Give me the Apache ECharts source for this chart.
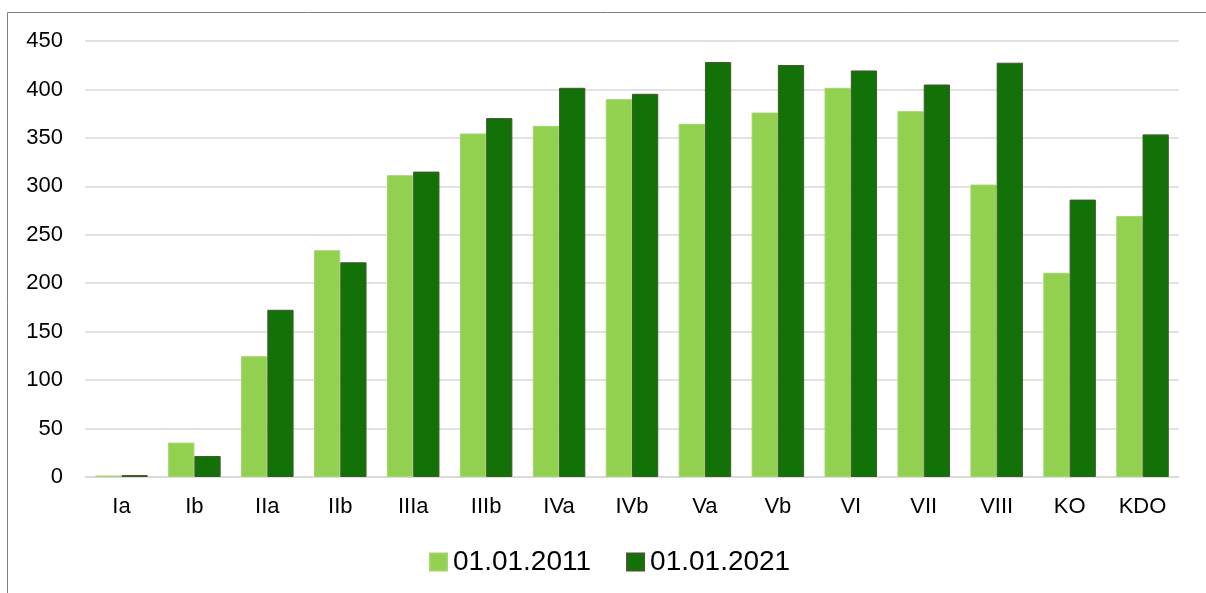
<!DOCTYPE html>
<html>
<head>
<meta charset="UTF-8">
<title>01.01.2011 / 01.01.2021</title>
<script src="https://cdn.jsdelivr.net/npm/echarts@6/dist/echarts.min.js"></script>
<style>
    html, body { margin: 0; padding: 0; background: #fff; }
    #main { width: 1206px; height: 593px; }
</style>
</head>
<body>
<div id="main"></div>
<script>
    // категории и значения
    const categories = ['Ia', 'Ib', 'IIa', 'IIb', 'IIIa', 'IIIb', 'IVa', 'IVb', 'Va', 'Vb', 'VI', 'VII', 'VIII', 'KO', 'KDO'];
    const values2011 = [1.5, 35.5, 124.7, 234, 311.5, 354.5, 362.4, 390, 364.5, 376.2, 401.7, 377.6, 301.8, 210.8, 269.4];
    const values2021 = [2, 21.7, 172.6, 221.6, 315.2, 370.4, 401.7, 395.5, 428.3, 425.2, 419.6, 405.1, 427.6, 286.3, 353.6];
    const seriesNames = ['01.01.2011', '01.01.2021'];

    const chart = echarts.init(document.getElementById('main'));

    const font = 'Liberation Sans, Arial, sans-serif';

    const option = {
        animation: false,
        backgroundColor: '#fff',
        // рамка вокруг всей диаграммы
        graphic: [{
            type: 'rect',
            shape: { x: 7.5, y: 12.5, width: 1210, height: 600 },
            style: { fill: 'none', stroke: '#7f7f7f', lineWidth: 1 },
            silent: true
        }],
        grid: {
            left: 85,
            right: 27,
            top: 41,
            bottom: 116,
            containLabel: false
        },
        legend: {
            data: seriesNames,
            bottom: 12,
            left: 424,
            itemWidth: 17,
            itemHeight: 17,
            itemGap: 35,
            icon: 'rect',
            textStyle: { fontFamily: font, fontSize: 28, color: '#000', padding: [0, 0, 0, 1] }
        },
        xAxis: {
            type: 'category',
            data: categories,
            axisLine: { lineStyle: { color: '#d9d9d9', width: 1.5 } },
            axisTick: { show: false },
            axisLabel: { fontFamily: font, fontSize: 22, color: '#000', margin: 19, interval: 0 }
        },
        yAxis: {
            type: 'value',
            min: 0,
            max: 450,
            interval: 50,
            axisLine: { show: false },
            axisTick: { show: false },
            splitLine: { lineStyle: { color: '#d9d9d9', width: 1.5 } },
            axisLabel: { fontFamily: font, fontSize: 22, color: '#000', margin: 22 }
        },
        series: [
            {
                name: seriesNames[0],
                type: 'bar',
                data: values2011,
                barGap: '0%',
                barCategoryGap: '28%',
                itemStyle: { color: '#92d050', borderColor: '#a3d46e', borderWidth: 1 }
            },
            {
                name: seriesNames[1],
                type: 'bar',
                data: values2021,
                itemStyle: { color: '#137207', borderColor: '#3e5a28', borderWidth: 1 }
            }
        ]
    };

    chart.setOption(option);
</script>
</body>
</html>
